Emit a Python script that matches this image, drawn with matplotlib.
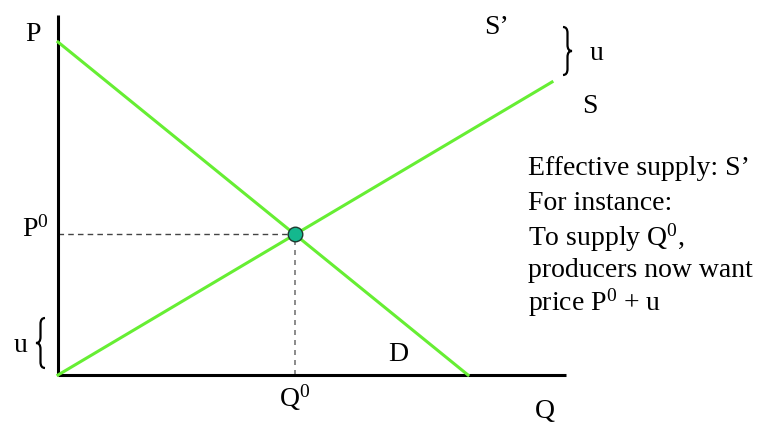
import matplotlib
matplotlib.use("Agg")
import matplotlib.pyplot as plt
from matplotlib.path import Path
from matplotlib.patches import PathPatch

plt.rcParams["font.family"] = ["Liberation Serif", "DejaVu Serif"]
plt.rcParams["mathtext.fontset"] = "custom"
plt.rcParams["mathtext.rm"] = "Liberation Serif"
plt.rcParams["mathtext.it"] = "Liberation Serif"
plt.rcParams["mathtext.default"] = "regular"

# Model in drawing units (origin at the axes corner)
demand_q = [0, 410]          # demand line quantity end points
demand_p = [333, 0]          # demand line price end points
supply_q = [0, 494]          # supply line quantity end points
supply_p = [0, 293]          # supply line price end points
axis_q_max = 508
axis_p_max = 360

notes = ["Effective supply: S’", "For instance:", "To supply Q$^0$,",
         "producers now want", "price P$^0$ + u"]

# Equilibrium from the two lines
d_slope = (demand_p[1] - demand_p[0]) / (demand_q[1] - demand_q[0])
s_slope = (supply_p[1] - supply_p[0]) / (supply_q[1] - supply_q[0])
q0 = (demand_p[0] - supply_p[0]) / (s_slope - d_slope)
p0 = supply_p[0] + s_slope * q0

green = "#66ee33"

fig = plt.figure(figsize=(7.64, 4.24), dpi=100)
ax = fig.add_axes([0, 0, 1, 1])
ax.set_xlim(-58, 706)
ax.set_ylim(-49, 375)
ax.axis("off")

# axes
ax.plot([0, 0], [0, axis_p_max], color="black", lw=2.2, solid_capstyle="butt", zorder=2)
ax.plot([0, axis_q_max], [0, 0], color="black", lw=2.2, solid_capstyle="butt", zorder=2)

# demand & supply
ax.plot(demand_q, demand_p, color=green, lw=2.2, zorder=3)
ax.plot(supply_q, supply_p, color=green, lw=2.2, zorder=3)

# guide lines to equilibrium
ax.plot([0, q0], [p0, p0], color="#444444", lw=1.0, ls=(0, (4, 3)), zorder=1)
ax.plot([q0, q0], [0, p0], color="#777777", lw=1.2, ls=(0, (3, 3)), zorder=1)
ax.scatter([q0], [p0], s=110, color="#14b88e", edgecolor="#1d3b30", linewidth=1.0, zorder=5)


def brace(x, y0, y1, width, direction):
    """Curly brace spanning y0..y1 at x; direction=+1 points right, -1 left."""
    w = width * direction
    ym = (y0 + y1) / 2
    verts = [
        (x, y1),
        (x + w * 0.5, y1), (x + w * 0.5, y1 - 6),
        (x + w * 0.5, ym + 6),
        (x + w * 0.5, ym), (x + w, ym),
        (x + w * 0.5, ym), (x + w * 0.5, ym - 6),
        (x + w * 0.5, y0 + 6),
        (x + w * 0.5, y0), (x, y0),
    ]
    codes = [Path.MOVETO,
             Path.CURVE3, Path.CURVE3,
             Path.LINETO,
             Path.CURVE3, Path.CURVE3,
             Path.CURVE3, Path.CURVE3,
             Path.LINETO,
             Path.CURVE3, Path.CURVE3]
    ax.add_patch(PathPatch(Path(verts, codes), fill=False, lw=1.6, color="black"))


brace(505, 300, 348, 9, +1)
brace(-13, 7, 57, 9, -1)

fs = 20
kw = dict(fontsize=fs, va="baseline")
# mathtext strings sit a little high on the baseline; nudge them down
math_shift = -3


def label(x, y, s, ha="center"):
    dy = math_shift if "$" in s else 0
    ax.text(x, y + dy, s, ha=ha, **kw)


label(-25, 334, "P")
label(439, 341, "S’")
label(539, 315, "u")
label(532, 262, "S")
label(-36, p0 + 1, "P$^0$", ha="left")
label(-37, 23, "u")
label(340, 14, "D")
label(q0, -29, "Q$^0$")
label(487, -43, "Q")

for i, line in enumerate(notes):
    label(470, [200, 165, 132, 98, 67][i], line, ha="left")

fig.savefig("out.png", dpi=100)
